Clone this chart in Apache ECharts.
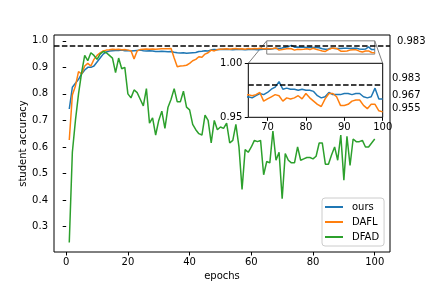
<!DOCTYPE html>
<html>
<head>
<meta charset="utf-8">
<script src="https://cdn.jsdelivr.net/npm/echarts@6/dist/echarts.min.js"></script>
<style>html,body{margin:0;padding:0;background:#fff;}#c{width:432px;height:288px;}</style>
</head>
<body>
<div id="c"></div>
<script>
const epochs = Array.from({length: 100}, (_, i) => i + 1);
const ours = [0.743,0.825,0.84,0.855,0.875,0.89,0.90,0.90,0.905,0.92,
0.935,0.95,0.958,0.962,0.963,0.964,0.964,0.965,0.963,0.964,
0.962,0.963,0.964,0.965,0.963,0.962,0.963,0.962,0.960,0.960,
0.961,0.960,0.959,0.960,0.957,0.955,0.954,0.955,0.953,0.954,
0.955,0.956,0.960,0.961,0.963,0.962,0.966,0.967,0.966,0.968,
0.967,0.968,0.967,0.966,0.967,0.968,0.967,0.966,0.967,0.968,
0.967,0.966,0.967,0.968,0.969,0.968,0.970,0.972,0.971,0.973,
0.976,0.978,0.983,0.976,0.977,0.976,0.976,0.975,0.976,0.975,
0.975,0.974,0.970,0.968,0.969,0.973,0.971,0.971,0.971,0.972,
0.972,0.971,0.972,0.972,0.969,0.968,0.969,0.977,0.967,0.967];
const dafl = [0.626,0.796,0.83,0.884,0.875,0.905,0.915,0.905,0.93,0.945,
0.955,0.962,0.965,0.966,0.968,0.967,0.968,0.966,0.967,0.965,
0.963,0.932,0.962,0.967,0.968,0.969,0.968,0.969,0.968,0.969,
0.970,0.970,0.970,0.971,0.935,0.902,0.905,0.906,0.908,0.915,
0.925,0.930,0.940,0.938,0.950,0.955,0.965,0.962,0.967,0.968,
0.969,0.970,0.968,0.970,0.971,0.969,0.970,0.968,0.971,0.969,
0.971,0.970,0.972,0.970,0.971,0.970,0.971,0.973,0.965,0.967,
0.969,0.971,0.970,0.965,0.968,0.967,0.968,0.970,0.967,0.972,
0.968,0.965,0.962,0.960,0.967,0.972,0.972,0.969,0.961,0.961,
0.962,0.965,0.966,0.966,0.961,0.958,0.962,0.962,0.956,0.955];
const dfad = [0.24,0.58,0.70,0.80,0.88,0.945,0.925,0.955,0.945,0.93,
0.95,0.96,0.955,0.945,0.935,0.88,0.935,0.895,0.90,0.80,
0.785,0.815,0.805,0.78,0.755,0.82,0.69,0.71,0.645,0.70,
0.735,0.67,0.75,0.78,0.82,0.77,0.77,0.81,0.75,0.74,
0.685,0.665,0.65,0.645,0.72,0.70,0.615,0.70,0.665,0.675,
0.67,0.69,0.615,0.625,0.685,0.60,0.44,0.59,0.58,0.60,
0.625,0.62,0.625,0.495,0.545,0.54,0.66,0.55,0.58,0.405,
0.575,0.55,0.54,0.54,0.60,0.55,0.555,0.56,0.56,0.555,
0.565,0.615,0.615,0.535,0.535,0.57,0.60,0.55,0.645,0.475,
0.64,0.53,0.63,0.62,0.62,0.625,0.60,0.60,0.615,0.63];
const refValue = 0.983;
const finalLabels = [0.983, 0.967, 0.955];
const xTicks = [0, 20, 40, 60, 80, 100];
const yTicks = [0.3, 0.4, 0.5, 0.6, 0.7, 0.8, 0.9, 1.0];
const insetXTicks = [70, 80, 90, 100];
const insetYTicks = [0.95, 1.0];
const zoomX = [65, 100];
const zoomY = [0.95, 1.0];

const FONT = 'DejaVu Sans';
const COLORS = {ours: '#1f77b4', DAFL: '#ff7f0e', DFAD: '#2ca02c'};
const pairs = arr => epochs.map((e, i) => [e, arr[i]]);

function axisCommon(ticks, fmt, margin, z) {
  return {
    axisLine: {show: false},
    splitLine: {show: false},
    axisTick: {show: true, length: 3.5, customValues: ticks, lineStyle: {color: '#000', width: 1}},
    axisLabel: {customValues: ticks, formatter: fmt, fontSize: 10, fontFamily: FONT, color: '#000', margin: margin},
    z: z
  };
}

const dashLine = () => ({
  silent: true, symbol: 'none', animation: false,
  label: {show: false},
  lineStyle: {color: '#000', type: [5.5, 2.4], width: 1.5},
  data: [{yAxis: refValue}]
});

const chart = echarts.init(document.getElementById('c'), null, {renderer: 'canvas'});
const option = {
  animation: false,
  backgroundColor: '#fff',
  grid: [
    {left: 54, top: 35, width: 336, height: 217, show: true, borderColor: '#000', borderWidth: 1, backgroundColor: 'transparent', z: 0},
    {left: 248.3, top: 63.3, width: 134.4, height: 54, show: true, borderColor: '#000', borderWidth: 1, backgroundColor: '#fff', z: 3}
  ],
  xAxis: [
    Object.assign({type: 'value', gridIndex: 0, min: -3.95, max: 104.95,
      name: 'epochs', nameLocation: 'middle', nameGap: 19, nameMoveOverlap: false,
      nameTextStyle: {fontSize: 10, fontFamily: FONT, color: '#000'}},
      axisCommon(xTicks, v => String(v), 5, 1)),
    Object.assign({type: 'value', gridIndex: 1, min: zoomX[0], max: zoomX[1]},
      axisCommon(insetXTicks, v => String(v), 5, 5))
  ],
  yAxis: [
    Object.assign({type: 'value', gridIndex: 0, min: 0.204, max: 1.022,
      name: 'student accuracy', nameLocation: 'middle', nameGap: 26, nameMoveOverlap: false,
      nameTextStyle: {fontSize: 10, fontFamily: FONT, color: '#000'}},
      axisCommon(yTicks, v => v.toFixed(1), 6, 1)),
    Object.assign({type: 'value', gridIndex: 1, min: zoomY[0], max: zoomY[1]},
      axisCommon(insetYTicks, v => v.toFixed(2), 6, 5))
  ],
  legend: {
    left: 322, top: 198, orient: 'vertical',
    data: ['ours', 'DAFL', 'DFAD'],
    icon: 'rect', itemWidth: 18, itemHeight: 2, itemGap: 3,
    padding: [3, 5, 3, 3],
    borderColor: '#cccccc', borderWidth: 1, borderRadius: 3,
    backgroundColor: 'rgba(255,255,255,0.8)',
    textStyle: {fontSize: 10, fontFamily: FONT, color: '#000', lineHeight: 12, padding: [0, 0, 0, 4]},
    z: 6
  },
  series: [
    {name: 'ours', type: 'line', xAxisIndex: 0, yAxisIndex: 0, data: pairs(ours), showSymbol: false,
      lineStyle: {width: 1.5, color: COLORS.ours}, itemStyle: {color: COLORS.ours}, z: 2,
      markArea: {silent: true, itemStyle: {color: 'rgba(0,0,0,0)', borderColor: '#808080', borderWidth: 1},
        data: [[{coord: [zoomX[0], zoomY[0]]}, {coord: [zoomX[1], zoomY[1]]}]]}},
    {name: 'DAFL', type: 'line', xAxisIndex: 0, yAxisIndex: 0, data: pairs(dafl), showSymbol: false,
      lineStyle: {width: 1.5, color: COLORS.DAFL}, itemStyle: {color: COLORS.DAFL}, z: 2},
    {name: 'DFAD', type: 'line', xAxisIndex: 0, yAxisIndex: 0, data: pairs(dfad), showSymbol: false,
      lineStyle: {width: 1.5, color: COLORS.DFAD}, itemStyle: {color: COLORS.DFAD}, z: 2,
      markLine: dashLine()},
    {name: 'ours', type: 'line', xAxisIndex: 1, yAxisIndex: 1, data: pairs(ours), showSymbol: false,
      lineStyle: {width: 1.5, color: COLORS.ours}, itemStyle: {color: COLORS.ours}, z: 4, clip: true},
    {name: 'DAFL', type: 'line', xAxisIndex: 1, yAxisIndex: 1, data: pairs(dafl), showSymbol: false,
      lineStyle: {width: 1.5, color: COLORS.DAFL}, itemStyle: {color: COLORS.DAFL}, z: 4, clip: true,
      markLine: dashLine()}
  ]
};
chart.setOption(option);

// annotations and inset connectors positioned through the axes' scales
const mainPx = (x, y) => chart.convertToPixel({xAxisIndex: 0, yAxisIndex: 0}, [x, y]);
const insetPx = (x, y) => chart.convertToPixel({xAxisIndex: 1, yAxisIndex: 1}, [x, y]);
const txt = (p, s) => ({type: 'text', z: 7, x: p[0], y: p[1] - 3.6,
  style: {text: s, fontSize: 10, fontFamily: FONT, fill: '#000', align: 'left', verticalAlign: 'middle'}});
const a1 = mainPx(zoomX[0], zoomY[1]), b1 = insetPx(zoomX[0], zoomY[1]);
const a2 = mainPx(zoomX[1], zoomY[1]), b2 = insetPx(zoomX[1], zoomY[1]);
chart.setOption({
  graphic: [
    {type: 'line', z: 2, shape: {x1: a1[0], y1: a1[1], x2: b1[0], y2: b1[1]}, style: {stroke: '#808080', lineWidth: 1}},
    {type: 'line', z: 2, shape: {x1: a2[0], y1: a2[1], x2: b2[0], y2: b2[1]}, style: {stroke: '#808080', lineWidth: 1}},
    txt(mainPx(107.2, refValue), refValue.toFixed(3)),
    txt(insetPx(102.4, finalLabels[0]), finalLabels[0].toFixed(3)),
    txt(insetPx(102.4, finalLabels[1]), finalLabels[1].toFixed(3)),
    txt(insetPx(102.4, finalLabels[2]), finalLabels[2].toFixed(3))
  ]
});
</script>
</body>
</html>
